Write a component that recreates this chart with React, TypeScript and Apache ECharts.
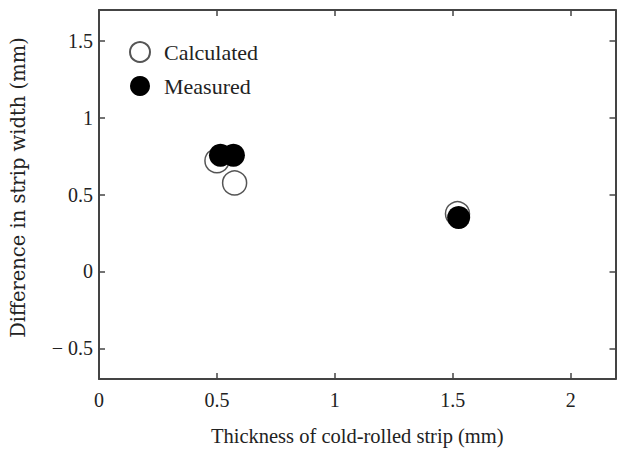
import React, { useEffect, useRef } from "react";
import * as echarts from "echarts";

const calculatedPoints: [number, number][] = [
  [0.5, 0.72],
  [0.575, 0.575],
  [1.52, 0.375],
];
const measuredPoints: [number, number][] = [
  [0.515, 0.755],
  [0.57, 0.755],
  [1.525, 0.35],
];
const seriesNames = ["Calculated", "Measured"];
const xTitle = "Thickness of cold-rolled strip (mm)";
const yTitle = "Difference in strip width (mm)";
const yTicks = [-0.5, 0, 0.5, 1, 1.5];

const FONT = "'Liberation Serif', 'DejaVu Serif', serif";
const INK = "#222";
const LINE = "#444";

export default function App() {
  const ref = useRef<HTMLDivElement>(null);
  useEffect(() => {
    if (!ref.current) return;
    const chart = echarts.init(ref.current, undefined, { renderer: "svg" });
    const axisLine = { show: true, onZero: false, lineStyle: { color: LINE, width: 2 } };
    const tick = { show: true, inside: true, length: 6, lineStyle: { color: LINE, width: 1.5 } };
    const yFmt = (v: number) => (v < 0 ? "\u2212 " + Math.abs(v) : String(v));
    chart.setOption({
      animation: false,
      backgroundColor: "#fff",
      grid: { left: 97.5, right: 1.5, top: 10, bottom: 70, containLabel: false },
      legend: {
        orient: "vertical",
        left: 129,
        top: 41,
        padding: 0,
        icon: "circle",
        itemWidth: 20,
        itemHeight: 20,
        itemGap: 12,
        textStyle: {
          fontFamily: FONT,
          fontSize: 22,
          lineHeight: 20,
          color: INK,
          padding: [0, 0, 0, 9],
        },
        data: seriesNames,
      },
      xAxis: [
        {
          type: "value",
          min: 0,
          max: 2.19,
          interval: 0.5,
          axisLine,
          axisTick: tick,
          splitLine: { show: false },
          axisLabel: {
            fontFamily: FONT,
            fontSize: 20,
            color: INK,
            margin: 11,
            showMaxLabel: false,
          },
          name: xTitle,
          nameLocation: "middle",
          nameGap: 46,
          nameTextStyle: { fontFamily: FONT, fontSize: 20.5, color: INK },
        },
        {
          type: "value",
          position: "top",
          min: 0,
          max: 2.19,
          interval: 0.5,
          axisLine,
          axisTick: tick,
          splitLine: { show: false },
          axisLabel: { show: false },
        },
      ],
      yAxis: [
        {
          type: "value",
          min: -0.7,
          max: 1.7,
          interval: 0.5,
          axisLine,
          axisTick: { ...tick, customValues: yTicks },
          splitLine: { show: false },
          axisLabel: {
            fontFamily: FONT,
            fontSize: 20,
            color: INK,
            margin: 6,
            customValues: yTicks,
            formatter: yFmt,
          },
          name: yTitle,
          nameLocation: "middle",
          nameGap: 71,
          nameTextStyle: {
            fontFamily: "'DejaVu Serif', serif",
            fontSize: 19.5,
            color: INK,
            padding: [0, 0, 0, 14],
          },
        },
        {
          type: "value",
          position: "right",
          min: -0.7,
          max: 1.7,
          interval: 0.5,
          axisLine,
          axisTick: { ...tick, customValues: yTicks },
          splitLine: { show: false },
          axisLabel: { show: false },
        },
      ],
      series: [
        {
          name: seriesNames[0],
          type: "scatter",
          data: calculatedPoints,
          symbol: "circle",
          symbolSize: 24,
          itemStyle: { color: "#fff", borderColor: "#555", borderWidth: 1.5, opacity: 1 },
          z: 2,
        },
        {
          name: seriesNames[1],
          type: "scatter",
          data: measuredPoints,
          symbol: "circle",
          symbolSize: 23,
          itemStyle: { color: "#000", borderWidth: 0, opacity: 1 },
          z: 3,
        },
      ],
    });
    return () => chart.dispose();
  }, []);
  return (
    <div
      ref={ref}
      style={{ position: "fixed", left: 0, top: 0, width: 617, height: 451 }}
    />
  );
}
